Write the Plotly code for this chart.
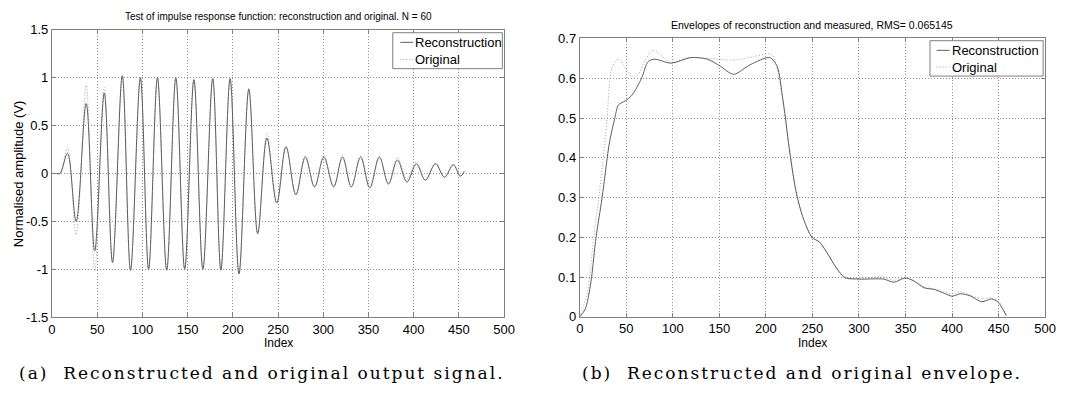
import plotly.graph_objects as go

W, H = 1065, 408

# ---------------- data: (a) output signal ----------------
sig_x = [5, 9, 17.2, 26.8, 37.9, 47.3, 57.9, 67, 77.8, 86.9, 97.8, 106.9, 116.7, 126.9,
         137, 146.8, 157, 166.9, 177.8, 186.8, 197, 206.8, 217.7, 227.5, 237.7, 248.6,
         258.8, 269.7, 280.2, 290.4, 300.6, 311.5, 321.3, 331, 341.3, 351.4, 362, 372.1,
         382, 392.5, 403, 412.8, 424.1, 434, 443.8, 451.5, 456]
sig_orig = [0, 0, 0.27, -0.64, 0.92, -1.02, 0.90, -0.93, 1.02, -1.02, 1.0, -1.01, 1.0, -1.01,
            1.0, -1.0, 0.98, -1.0, 0.99, -1.01, 0.99, -1.04, 0.89, -0.63, 0.42, -0.30,
            0.28, -0.23, 0.19, -0.15, 0.19, -0.13, 0.19, -0.14, 0.19, -0.15, 0.18, -0.10,
            0.17, -0.06, 0.12, -0.07, 0.11, -0.04, 0.10, -0.02, 0.03]
sig_recon = [0, 0, 0.21, -0.50, 0.73, -0.81, 0.84, -0.93, 1.02, -1.01, 1.0, -1.0, 1.0, -1.01,
             1.0, -1.0, 0.98, -1.0, 0.99, -1.01, 0.99, -1.05, 0.88, -0.63, 0.37, -0.31,
             0.28, -0.22, 0.17, -0.14, 0.17, -0.14, 0.17, -0.14, 0.17, -0.15, 0.17, -0.11,
             0.14, -0.09, 0.10, -0.07, 0.10, -0.04, 0.09, -0.03, 0.02]

# ---------------- data: (b) envelope ----------------
env_x_recon = [0, 6, 10, 12.7, 17.5, 24, 32, 37.4, 41.6, 48.7, 55.8, 66.4, 73.4, 80.5, 98.2,
               119.4, 137, 151.2, 165.3, 183, 204.1, 212, 218, 221, 224.2, 232.2, 239.5,
               249.6, 257.6, 264.9, 275.8, 284.8, 299.7, 326.6, 337.4, 349.8, 359.2, 370.1,
               381, 391.9, 400, 409, 419.5, 431.9, 442.5, 449.5, 454.8, 458.3]
env_recon = [0, 0.02, 0.06, 0.10, 0.20, 0.30, 0.44, 0.497, 0.533, 0.543, 0.557, 0.60, 0.642,
             0.648, 0.638, 0.652, 0.648, 0.63, 0.61, 0.634, 0.652, 0.63, 0.55, 0.50, 0.438,
             0.317, 0.252, 0.20, 0.188, 0.164, 0.123, 0.099, 0.095, 0.095, 0.087, 0.098,
             0.09, 0.073, 0.069, 0.059, 0.052, 0.058, 0.053, 0.038, 0.045, 0.037, 0.018, 0.003]
env_x_orig = [0, 3, 8, 10.5, 15, 20.5, 27, 29.3, 34.6, 41.7, 48, 55.8, 62.8, 70, 78.7, 89.3,
              98.2, 115.8, 137, 165.3, 186.4, 202.3, 208, 214, 219, 222, 224.5, 232, 240,
              249, 257, 265, 276, 285, 300, 326, 337, 350, 359, 370, 381, 392, 400, 409,
              419, 432, 442, 449.5, 455, 458.5]
env_orig = [0, 0.02, 0.06, 0.10, 0.20, 0.30, 0.44, 0.497, 0.626, 0.648, 0.63, 0.603, 0.61,
            0.645, 0.67, 0.654, 0.64, 0.652, 0.65, 0.646, 0.654, 0.662, 0.655, 0.60, 0.53,
            0.48, 0.44, 0.32, 0.25, 0.20, 0.19, 0.165, 0.12, 0.097, 0.097, 0.10, 0.092,
            0.099, 0.09, 0.075, 0.07, 0.062, 0.058, 0.063, 0.055, 0.046, 0.048, 0.04, 0.02,
            0.005]

series_names = ["Reconstruction", "Original"]
x_ticks = [0, 50, 100, 150, 200, 250, 300, 350, 400, 450, 500]
left_y_ticks = [-1.5, -1, -0.5, 0, 0.5, 1, 1.5]
left_y_labels = ["-1.5", "-1", "-0.5", "0", "0.5", "1", "1.5"]
right_y_ticks = [0, 0.1, 0.2, 0.3, 0.4, 0.5, 0.6, 0.7]
right_y_labels = ["0", "0.1", "0.2", "0.3", "0.4", "0.5", "0.6", "0.7"]
title_a = "Test of impulse response function: reconstruction and original. N = 60"
title_b = "Envelopes of reconstruction and measured, RMS= 0.065145"
x_label = "Index"
y_label_a = "Normalised amplitude (V)"
caption_a = "(a)  Reconstructed and original output signal."
caption_b = "(b)  Reconstructed and original envelope."

# ---------------- styling ----------------
SANS = "Liberation Sans, Arial, sans-serif"
SERIF = "DejaVu Serif, serif"
FRAME = "#7f7f7f"
GRID = "#8c8c8c"
C_RECON = "#5e5e5e"
C_ORIG = "#a0a0a0"
FINE_DOT = "1px,2px"


def fx(p):
    return p / W


def fy(p):
    return 1 - p / H


# pixel boxes of the two axes
LX0, LX1, LY0, LY1 = 48.6, 507.3, 23.6, 322.0
RX0, RX1, RY0, RY1 = 584.0, 1056.0, 32.7, 321.7

fig = go.Figure()

fig.add_trace(go.Scatter(x=sig_x, y=sig_orig, mode="lines", name=series_names[1],
                         line=dict(color=C_ORIG, width=1, dash=FINE_DOT, shape="spline", smoothing=1),
                         xaxis="x", yaxis="y", showlegend=False))
fig.add_trace(go.Scatter(x=sig_x, y=sig_recon, mode="lines", name=series_names[0],
                         line=dict(color=C_RECON, width=1, shape="spline", smoothing=1),
                         xaxis="x", yaxis="y", showlegend=False))
fig.add_trace(go.Scatter(x=env_x_orig, y=env_orig, mode="lines", name=series_names[1],
                         line=dict(color=C_ORIG, width=1, dash=FINE_DOT, shape="spline", smoothing=0.8),
                         xaxis="x2", yaxis="y2", showlegend=False))
fig.add_trace(go.Scatter(x=env_x_recon, y=env_recon, mode="lines", name=series_names[0],
                         line=dict(color=C_RECON, width=1, shape="spline", smoothing=0.8),
                         xaxis="x2", yaxis="y2", showlegend=False))

axis_common = dict(showline=True, linecolor=FRAME, linewidth=1, mirror="ticks",
                   ticks="inside", ticklen=4, tickcolor=FRAME,
                   showgrid=True, gridcolor=GRID, griddash=FINE_DOT, gridwidth=1,
                   zeroline=False, tickfont=dict(family=SANS, size=13, color="black"))

fig.update_layout(
    width=W, height=H, margin=dict(l=0, r=0, t=0, b=0),
    paper_bgcolor="white", plot_bgcolor="white", showlegend=False,
    xaxis=dict(domain=[fx(LX0), fx(LX1)], range=[0, 500], tickvals=x_ticks,
               anchor="y", **axis_common),
    yaxis=dict(domain=[fy(LY1), fy(LY0)], range=[-1.5, 1.5], tickvals=left_y_ticks,
               ticktext=left_y_labels, anchor="x", **axis_common),
    xaxis2=dict(domain=[fx(RX0), fx(RX1)], range=[0, 500], tickvals=x_ticks,
                anchor="y2", **axis_common),
    yaxis2=dict(domain=[fy(RY1), fy(RY0)], range=[0, 0.7], tickvals=right_y_ticks,
                ticktext=right_y_labels, anchor="x2", **axis_common),
)

ann = []


def text(x, y, s, size, family=SANS, angle=0, xanchor="center"):
    ann.append(dict(x=fx(x), y=fy(y), xref="paper", yref="paper", text=s, showarrow=False,
                    font=dict(family=family, size=size, color="black"), textangle=angle,
                    xanchor=xanchor, yanchor="middle", borderpad=0))


text((LX0 + LX1) / 2, 10, title_a, 10)
text((RX0 + RX1) / 2, 19, title_b, 10.5)
text((LX0 + LX1) / 2, 349, x_label, 12)
text((RX0 + RX1) / 2, 349, x_label, 12)
text(15, (LY0 + LY1) / 2, y_label_a, 13, angle=-90)
text(262, 380, '<span style="letter-spacing:2px">' + caption_a + '</span>', 17, family=SERIF)
text(809, 380, '<span style="letter-spacing:2px">' + caption_b + '</span>', 17, family=SERIF)

shapes = []


def legend(bx0, bx1, by0, by1, rows, sx0, sx1, tx):
    shapes.append(dict(type="rect", xref="paper", yref="paper", x0=fx(bx0), x1=fx(bx1),
                       y0=fy(by1), y1=fy(by0), line=dict(color=FRAME, width=1),
                       fillcolor="white", layer="above"))
    styles = [dict(color=C_RECON, width=1), dict(color=C_ORIG, width=1, dash=FINE_DOT)]
    for i, ry in enumerate(rows):
        shapes.append(dict(type="line", xref="paper", yref="paper", x0=fx(sx0), x1=fx(sx1),
                           y0=fy(ry), y1=fy(ry), line=styles[i], layer="above"))
        text(tx, ry, series_names[i], 13, xanchor="left")


legend(394.3, 505.5, 26.7, 64, [36.7, 54.5], 402, 415, 416)
legend(939.2, 1054, 35, 71.7, [45, 62.3], 946, 959, 960.5)

fig.update_layout(annotations=ann, shapes=shapes)
fig.write_html("out.html",
               post_script="document.body.style.margin='0';"
                           "document.documentElement.style.overflow='hidden';"
                           "document.body.style.overflow='hidden';")
